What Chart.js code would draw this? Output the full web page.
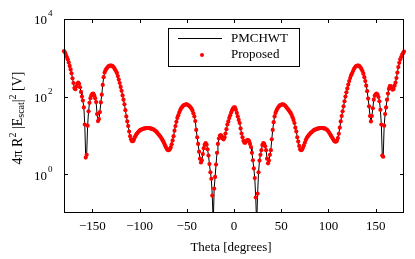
<!DOCTYPE html>
<html>
<head>
<meta charset="utf-8">
<script src="https://cdn.jsdelivr.net/npm/chart.js@4/dist/chart.umd.min.js"></script>
<style>
    html, body { margin: 0; padding: 0; background: #fff; }
    #wrap { width: 415px; height: 259px; }
</style>
</head>
<body>
<div id="wrap"><canvas id="scatChart" width="415" height="259"></canvas></div>
<script>
// 角度 (度)
const thetaDeg = [
    -180, -179, -178, -177, -176, -175, -174, -173, -172, -171,
    -170, -169, -168, -167, -166, -165, -164, -163, -162, -161,
    -160, -159, -158, -157, -156, -155, -154, -153, -152, -151,
    -150, -149, -148, -147, -146, -145, -144, -143, -142, -141,
    -140, -139, -138, -137, -136, -135, -134, -133, -132, -131,
    -130, -129, -128, -127, -126, -125, -124, -123, -122, -121,
    -120, -119, -118, -117, -116, -115, -114, -113, -112, -111,
    -110, -109, -108, -107, -106, -105, -104, -103, -102, -101,
    -100, -99, -98, -97, -96, -95, -94, -93, -92, -91,
    -90, -89, -88, -87, -86, -85, -84, -83, -82, -81,
    -80, -79, -78, -77, -76, -75, -74, -73, -72, -71,
    -70, -69, -68, -67, -66, -65, -64, -63, -62, -61,
    -60, -59, -58, -57, -56, -55, -54, -53, -52, -51,
    -50, -49, -48, -47, -46, -45, -44, -43, -42, -41,
    -40, -39, -38, -37, -36, -35, -34, -33, -32, -31,
    -30, -29, -28, -27, -26, -25, -24, -23, -22, -21,
    -20, -19, -18, -17, -16, -15, -14, -13, -12, -11,
    -10, -9, -8, -7, -6, -5, -4, -3, -2, -1,
    0,
    1, 2, 3, 4, 5, 6, 7, 8, 9, 10,
    11, 12, 13, 14, 15, 16, 17, 18, 19, 20,
    21, 22, 23, 24, 25, 26, 27, 28, 29, 30,
    31, 32, 33, 34, 35, 36, 37, 38, 39, 40,
    41, 42, 43, 44, 45, 46, 47, 48, 49, 50,
    51, 52, 53, 54, 55, 56, 57, 58, 59, 60,
    61, 62, 63, 64, 65, 66, 67, 68, 69, 70,
    71, 72, 73, 74, 75, 76, 77, 78, 79, 80,
    81, 82, 83, 84, 85, 86, 87, 88, 89, 90,
    91, 92, 93, 94, 95, 96, 97, 98, 99, 100,
    101, 102, 103, 104, 105, 106, 107, 108, 109, 110,
    111, 112, 113, 114, 115, 116, 117, 118, 119, 120,
    121, 122, 123, 124, 125, 126, 127, 128, 129, 130,
    131, 132, 133, 134, 135, 136, 137, 138, 139, 140,
    141, 142, 143, 144, 145, 146, 147, 148, 149, 150,
    151, 152, 153, 154, 155, 156, 157, 158, 159, 160,
    161, 162, 163, 164, 165, 166, 167, 168, 169, 170,
    171, 172, 173, 174, 175, 176, 177, 178, 179, 180
];

// 4πR²|E_scat|² [V] - PMCHWT 參考解
const pmchwtVals = [
    1480, 1380, 1200, 1050, 912, 759, 617, 501, 398, 295,
    224, 166, 155, 182, 214, 229, 214, 174, 132, 100,
    79.4, 52.5, 19.1, 2.69, 3.16, 17.8, 41.7, 69.2, 91.2, 107,
    117, 120, 107, 91.2, 72.4, 35.5, 23.4, 26.3, 39.8, 70.8,
    112, 200, 316, 417, 479, 525, 562, 603, 617, 631,
    631, 617, 589, 550, 501, 457, 407, 339, 275, 224,
    178, 141, 107, 83.2, 63.1, 44.7, 30.9, 22.9, 17.4, 12.6,
    9.55, 7.94, 7.08, 7.08, 7.76, 8.91, 10.0, 11.0, 11.7, 12.6,
    13.2, 13.8, 14.1, 14.5, 14.8, 15.1, 15.1, 15.5, 15.5, 15.5,
    15.5, 15.1, 15.1, 14.8, 14.5, 14.1, 13.5, 12.9, 12.3, 11.5,
    10.7, 10.0, 9.33, 8.51, 7.76, 7.08, 6.31, 5.50, 4.90, 4.47,
    4.17, 4.17, 4.37, 4.90, 5.89, 7.41, 9.55, 13.2, 17.4, 22.4,
    28.2, 33.1, 38.9, 44.7, 50.1, 53.7, 57.5, 60.3, 61.7, 63.1,
    63.1, 61.7, 58.9, 56.2, 52.5, 49.0, 43.7, 37.2, 30.9, 23.4,
    13.8, 8.91, 6.03, 3.80, 2.51, 2.00, 2.29, 3.31, 4.68, 5.75,
    6.31, 5.75, 4.37, 3.02, 1.82, 1.12, 0.759, 0.282, 0.05, 0.427,
    0.851, 1.78, 3.55, 6.03, 8.32, 9.77, 10.2, 9.55, 8.32, 7.94,
    8.91, 11.2, 14.5, 19.1, 22.9, 28.2, 33.1, 38.9, 44.7, 50.1,
    52.5,
    52.5, 45.7, 38.0, 30.9, 25.1, 20.9, 15.1, 11.2, 8.91, 7.24,
    6.46, 6.46, 7.08, 7.59, 7.59, 7.08, 6.03, 5.01, 3.55, 2.29,
    1.41, 0.794, 0.251, 0.05, 0.316, 1.12, 2.24, 3.16, 4.17, 5.62,
    6.31, 6.03, 5.25, 4.17, 2.51, 1.91, 2.24, 3.16, 4.17, 7.94,
    13.8, 21.9, 30.9, 38.0, 43.7, 49.0, 53.7, 57.5, 60.3, 61.7,
    63.1, 63.1, 61.7, 58.9, 55.0, 51.3, 47.9, 44.7, 40.7, 38.0,
    33.9, 29.5, 25.1, 20.9, 15.8, 12.6, 8.91, 6.92, 5.37, 4.37,
    4.17, 4.27, 4.79, 5.50, 6.46, 7.59, 8.51, 9.33, 10.0, 10.7,
    11.5, 12.0, 12.6, 13.2, 13.8, 14.1, 14.5, 14.8, 15.1, 15.1,
    15.5, 15.5, 15.5, 15.5, 15.1, 15.1, 14.8, 14.1, 13.5, 12.6,
    11.5, 10.5, 9.55, 8.71, 7.94, 7.24, 6.92, 6.92, 7.24, 8.51,
    11.0, 15.8, 22.9, 31.6, 41.7, 56.2, 75.9, 100, 129, 162,
    204, 251, 302, 355, 398, 457, 513, 562, 603, 617,
    631, 631, 603, 562, 513, 457, 389, 316, 251, 191,
    138, 89.1, 56.2, 31.6, 22.9, 31.6, 50.1, 83.2, 105, 115,
    120, 112, 97.7, 75.9, 45.7, 19.1, 3.02, 2.82, 17.8, 35.5,
    52.5, 83.2, 120, 158, 186, 186, 166, 151, 158, 191,
    229, 302, 417, 575, 741, 912, 1047, 1202, 1318, 1445
];

// Proposed 方法 (與 PMCHWT 重合)
const proposedVals = pmchwtVals;

// 座標軸刻度
const xTickVals = [-150, -100, -50, 0, 50, 100, 150];
const yTickExps = [0, 2, 4];

const SERIF = "'Liberation Serif', 'Times New Roman', serif";

/**
 * 畫帶上下標的文字 (置中)
 */
function drawRichText(ctx, parts, cx, cy, size) {
    const small = Math.round(size * 0.7);
    const widths = parts.map(p => {
        ctx.font = (p.s === 'n' ? size : small) + 'px ' + SERIF;
        return ctx.measureText(p.t).width;
    });
    let x = cx - widths.reduce((a, b) => a + b, 0) / 2;
    parts.forEach((p, i) => {
        ctx.font = (p.s === 'n' ? size : small) + 'px ' + SERIF;
        const dy = p.s === 'sup' ? -5 : (p.s === 'sub' ? 3 : 0);
        ctx.fillText(p.t, x, cy + dy);
        x += widths[i];
    });
}

// 外框、向內刻度、刻度標籤、軸標題與圖例
const framePlugin = {
    id: 'framePlugin',
    afterDraw(chart) {
        const { ctx, chartArea: a, scales: { x, y } } = chart;
        ctx.save();
        ctx.strokeStyle = '#000';
        ctx.fillStyle = '#000';
        ctx.lineWidth = 1;

        // 外框
        ctx.strokeRect(a.left + 0.5, a.top + 0.5, a.right - a.left - 1, a.bottom - a.top - 1);

        // x 刻度
        ctx.beginPath();
        xTickVals.forEach(v => {
            const px = Math.round(x.getPixelForValue(v)) + 0.5;
            ctx.moveTo(px, a.bottom);
            ctx.lineTo(px, a.bottom - 4);
            ctx.moveTo(px, a.top);
            ctx.lineTo(px, a.top + 4);
        });
        // y 刻度
        yTickExps.forEach(e => {
            const py = Math.round(y.getPixelForValue(Math.pow(10, e))) + 0.5;
            ctx.moveTo(a.left, py);
            ctx.lineTo(a.left + 4, py);
            ctx.moveTo(a.right, py);
            ctx.lineTo(a.right - 4, py);
        });
        ctx.stroke();

        // x 刻度標籤
        ctx.font = '13px ' + SERIF;
        ctx.textAlign = 'center';
        ctx.textBaseline = 'middle';
        xTickVals.forEach(v => {
            const label = String(v).replace('-', '\u2212');
            ctx.fillText(label, x.getPixelForValue(v), a.bottom + 14);
        });

        // y 刻度標籤 10^n
        yTickExps.forEach(e => {
            const py = y.getPixelForValue(Math.pow(10, e));
            ctx.font = '13px ' + SERIF;
            ctx.textAlign = 'right';
            ctx.fillText('10', 47, py + 2);
            ctx.font = '9px ' + SERIF;
            ctx.textAlign = 'left';
            ctx.fillText(String(e), 48, py - 5);
        });

        // x 軸標題
        ctx.font = '13px ' + SERIF;
        ctx.textAlign = 'center';
        ctx.fillText('Theta [degrees]', (a.left + a.right) / 2 - 3, 248);

        // y 軸標題
        ctx.save();
        ctx.translate(18, (a.top + a.bottom) / 2 + 2);
        ctx.rotate(-Math.PI / 2);
        ctx.textAlign = 'left';
        drawRichText(ctx, [
            { t: '4\u03c0 R', s: 'n' },
            { t: '2', s: 'sup' },
            { t: ' |E', s: 'n' },
            { t: 'scat', s: 'sub' },
            { t: '|', s: 'n' },
            { t: '2', s: 'sup' },
            { t: ' [V]', s: 'n' }
        ], 0, 0, 14);
        ctx.restore();

        // 圖例
        const ds = chart.data.datasets;
        ctx.fillStyle = '#fff';
        ctx.fillRect(168, 28, 131, 38);
        ctx.strokeRect(168.5, 28.5, 131, 38);
        ctx.beginPath();
        ctx.moveTo(178, 38.5);
        ctx.lineTo(222, 38.5);
        ctx.strokeStyle = ds[0].borderColor;
        ctx.stroke();
        ctx.beginPath();
        ctx.arc(202, 55, 2, 0, Math.PI * 2);
        ctx.fillStyle = ds[1].backgroundColor;
        ctx.fill();
        ctx.fillStyle = '#000';
        ctx.font = '13px ' + SERIF;
        ctx.textAlign = 'left';
        ctx.fillText(ds[0].label, 231, 39);
        ctx.fillText(ds[1].label, 231, 55);

        ctx.restore();
    }
};

let scatChart = null;

/**
 * 建立散射場圖表
 */
function drawScatChart() {
    const ctx = document.getElementById('scatChart');
    if (!ctx) return;

    if (scatChart) {
        scatChart.destroy();
    }

    const linePts = thetaDeg.map((t, i) => ({ x: t, y: pmchwtVals[i] }));
    const dotPts = thetaDeg.map((t, i) => ({ x: t, y: proposedVals[i] }));

    scatChart = new Chart(ctx, {
        type: 'scatter',
        data: {
            datasets: [
                {
                    label: 'PMCHWT',
                    data: linePts,
                    showLine: true,
                    borderColor: '#000000',
                    backgroundColor: '#000000',
                    borderWidth: 1,
                    pointRadius: 0,
                    tension: 0,
                    clip: { left: 2, right: 2, top: 0, bottom: 0 },
                    order: 2
                },
                {
                    label: 'Proposed',
                    data: dotPts,
                    showLine: false,
                    borderColor: '#ff0000',
                    backgroundColor: '#ff0000',
                    borderWidth: 0,
                    pointRadius: 2.1,
                    clip: { left: 3, right: 3, top: 0, bottom: 0 },
                    order: 1
                }
            ]
        },
        options: {
            responsive: false,
            animation: false,
            devicePixelRatio: 1,
            layout: {
                padding: { left: 64, right: 11, top: 19, bottom: 46 }
            },
            plugins: {
                legend: { display: false },
                tooltip: { enabled: false }
            },
            scales: {
                x: {
                    type: 'linear',
                    display: false,
                    min: -180,
                    max: 180
                },
                y: {
                    type: 'logarithmic',
                    display: false,
                    min: 0.1,
                    max: 10000
                }
            }
        },
        plugins: [framePlugin]
    });
}

drawScatChart();
</script>
</body>
</html>
